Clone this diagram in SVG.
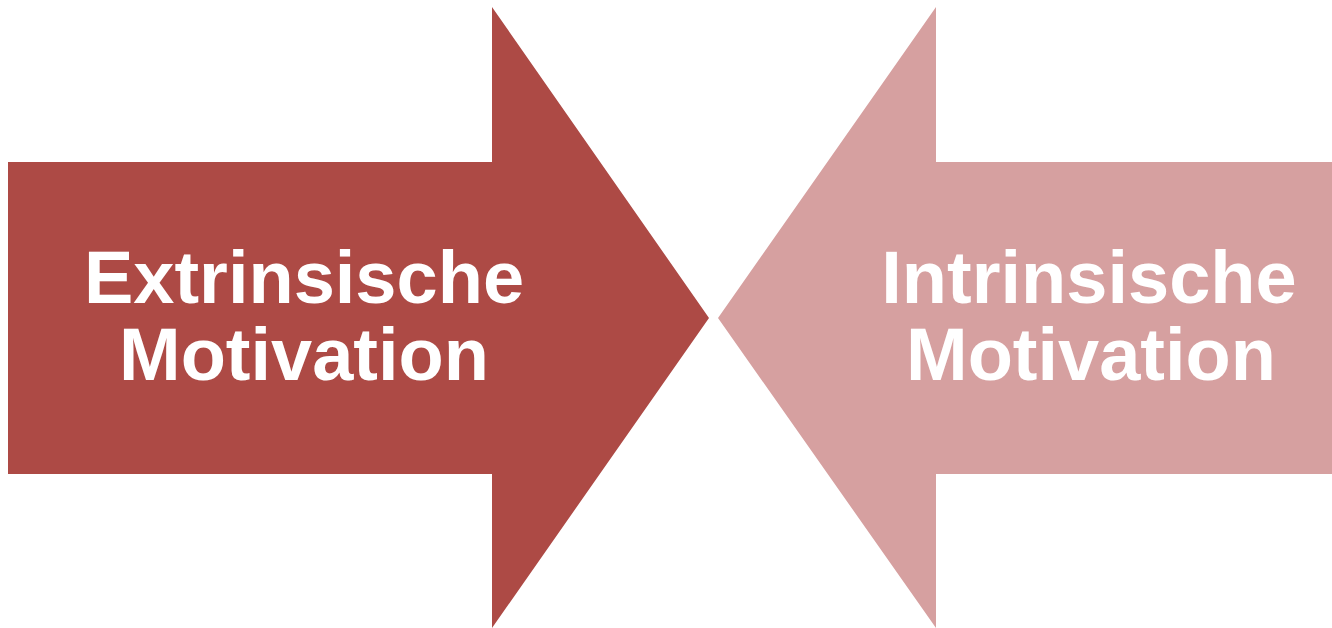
<svg xmlns="http://www.w3.org/2000/svg" width="1332" height="628" viewBox="0 0 1332 628">
<style>
.lbl{font-family:"Liberation Sans",Arial,sans-serif;font-weight:bold;font-size:74px;fill:#ffffff;text-anchor:middle}
</style>
<rect width="1332" height="628" fill="#ffffff"/>
<g id="extrinsic">
<polygon points="8,162 492,162 492,7 709,318 492,628 492,474 8,474" fill="#AD4A45"/>
<text class="lbl" x="304" y="303">Extrinsische</text>
<text class="lbl" x="304" y="380">Motivation</text>
</g>
<g id="intrinsic">
<polygon points="1332,162 936,162 936,7 718,318 936,628 936,474 1332,474" fill="#D6A0A0"/>
<text class="lbl" x="1089" y="303">Intrinsische</text>
<text class="lbl" x="1091" y="380">Motivation</text>
</g>
<g id="connectors"/>
</svg>
